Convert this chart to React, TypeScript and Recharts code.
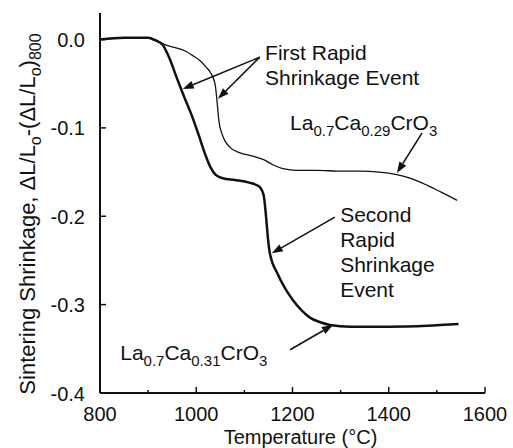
import React from 'react';
import {
  LineChart,
  Line,
  XAxis,
  YAxis,
  Label,
  ReferenceDot,
  ReferenceLine,
} from 'recharts';

const FONT = '"Liberation Sans", Arial, Helvetica, sans-serif';
const INK = '#111';

// La0.7Ca0.29CrO3 dilatometer trace
const ca029Temp = [800, 850, 900, 915, 931, 955, 977, 995, 1008, 1020, 1029, 1039, 1043, 1047, 1053, 1060, 1070, 1090, 1118, 1140, 1160, 1180, 1210, 1251, 1300, 1340, 1380, 1417, 1450, 1480, 1510, 1542];
const ca029Shrink = [0, 0.002, 0.002, 0, -0.005, -0.009, -0.013, -0.019, -0.024, -0.031, -0.037, -0.05, -0.069, -0.092, -0.106, -0.115, -0.122, -0.128, -0.132, -0.136, -0.142, -0.146, -0.148, -0.148, -0.149, -0.149, -0.15, -0.153, -0.158, -0.165, -0.173, -0.182];

// La0.7Ca0.31CrO3 dilatometer trace
const ca031Temp = [800, 850, 900, 915, 930, 945, 960, 975, 990, 1005, 1020, 1030, 1040, 1055, 1080, 1110, 1130, 1140, 1145, 1149, 1153, 1168, 1185, 1201, 1220, 1237, 1258, 1278, 1320, 1400, 1480, 1545];
const ca031Shrink = [0, 0.002, 0.002, -0.001, -0.006, -0.022, -0.044, -0.065, -0.085, -0.108, -0.132, -0.145, -0.153, -0.157, -0.159, -0.162, -0.166, -0.176, -0.2, -0.225, -0.242, -0.264, -0.282, -0.295, -0.307, -0.315, -0.32, -0.323, -0.325, -0.325, -0.324, -0.322];

const xMajorTicks = [800, 1000, 1200, 1400, 1600];
const xMinorTicks = [900, 1100, 1300, 1500];
const yTicks = [0, -0.1, -0.2, -0.3, -0.4];

const toRows = (temps: number[], shrink: number[]) =>
  temps.map((temp, i) => ({ temp, shrink: shrink[i] }));

const ca029Rows = toRows(ca029Temp, ca029Shrink);
const ca031Rows = toRows(ca031Temp, ca031Shrink);

// chemical names: [text, isSubscript]
type Part = [string, boolean];
const ca029Name: Part[] = [['La', false], ['0.7', true], ['Ca', false], ['0.29', true], ['CrO', false], ['3', true]];
const ca031Name: Part[] = [['La', false], ['0.7', true], ['Ca', false], ['0.31', true], ['CrO', false], ['3', true]];

function Formula({ cx, cy, parts }: { cx?: number; cy?: number; parts: Part[] }) {
  let shifted = false;
  return (
    <text x={cx} y={cy} fontFamily={FONT} fontSize={21} fill={INK}>
      {parts.map(([s, sub], i) => {
        const dy = sub && !shifted ? 6 : !sub && shifted ? -6 : 0;
        shifted = sub;
        return (
          <tspan key={i} dy={dy} fontSize={sub ? 15 : 21}>
            {s}
          </tspan>
        );
      })}
    </text>
  );
}

function Lines({ cx, cy, lines }: { cx?: number; cy?: number; lines: string[] }) {
  return (
    <text x={cx} y={cy} fontFamily={FONT} fontSize={21} fill={INK}>
      {lines.map((s, i) => (
        <tspan key={i} x={cx} dy={i === 0 ? 0 : 25}>
          {s}
        </tspan>
      ))}
    </text>
  );
}

function Arrow(p: any) {
  const { x1, y1, x2, y2 } = p;
  const a = Math.atan2(y2 - y1, x2 - x1);
  const len = 11;
  const w = 4;
  const bx = x2 - len * Math.cos(a);
  const by = y2 - len * Math.sin(a);
  const nx = -Math.sin(a) * w;
  const ny = Math.cos(a) * w;
  return (
    <g>
      <line x1={x1} y1={y1} x2={bx} y2={by} stroke={INK} strokeWidth={1.6} />
      <polygon points={`${x2},${y2} ${bx + nx},${by + ny} ${bx - nx},${by - ny}`} fill={INK} />
    </g>
  );
}

function BottomTick({ x, y, payload }: any) {
  const major = xMajorTicks.includes(payload.value);
  return (
    <g>
      <line x1={x} x2={x} y1={y} y2={y - (major ? 6 : 3)} stroke={INK} strokeWidth={1.5} />
      {major && (
        <text x={x} y={y + 28} textAnchor="middle" fontFamily={FONT} fontSize={20} fill={INK}>
          {payload.value}
        </text>
      )}
    </g>
  );
}

function TopTick({ x, y, payload }: any) {
  const major = xMajorTicks.includes(payload.value);
  return <line x1={x} x2={x} y1={y} y2={y + (major ? 6 : 3)} stroke={INK} strokeWidth={1.5} />;
}

function LeftTick({ x, y, payload }: any) {
  return (
    <g>
      <line x1={x} x2={x + 6} y1={y} y2={y} stroke={INK} strokeWidth={1.5} />
      <text x={x - 15} y={y + 7.5} textAnchor="end" fontFamily={FONT} fontSize={20} fill={INK}>
        {payload.value === 0 ? '0.0' : payload.value.toFixed(1)}
      </text>
    </g>
  );
}

function RightTick({ x, y }: any) {
  return <line x1={x} x2={x - 6} y1={y} y2={y} stroke={INK} strokeWidth={1.5} />;
}

function YTitle({ viewBox }: any) {
  const cx = viewBox.x + 35;
  const cy = viewBox.y + viewBox.height / 2 + 11;
  return (
    <text
      x={cx}
      y={cy}
      transform={`rotate(-90 ${cx} ${cy})`}
      textAnchor="middle"
      fontFamily={FONT}
      fontSize={22}
      fill={INK}
    >
      Sintering Shrinkage, ΔL/L
      <tspan dy={6} fontSize={16}>o</tspan>
      <tspan dy={-6}>-(ΔL/L</tspan>
      <tspan dy={6} fontSize={16}>o</tspan>
      <tspan dy={-6}>)</tspan>
      <tspan dy={6} fontSize={16}>800</tspan>
    </text>
  );
}

function XTitle({ viewBox }: any) {
  return (
    <text
      x={viewBox.x + viewBox.width / 2 + 8}
      y={viewBox.y + 51}
      textAnchor="middle"
      fontFamily={FONT}
      fontSize={20}
      fill={INK}
    >
      Temperature (°C)
    </text>
  );
}

const axisLine = { stroke: INK, strokeWidth: 2 };
const allXTicks = [...xMajorTicks, ...xMinorTicks].sort((a, b) => a - b);

export default function App() {
  return (
    <div style={{ position: 'absolute', left: 0, top: 0, background: '#fff', fontFamily: FONT }}>
      <LineChart width={513} height={448} margin={{ top: 13, right: 28, left: 0, bottom: 0 }}>
        <XAxis
          dataKey="temp"
          type="number"
          domain={[800, 1600]}
          ticks={allXTicks}
          interval={0}
          height={55}
          tickSize={0}
          tickMargin={0}
          axisLine={axisLine}
          tickLine={false}
          tick={<BottomTick />}
        >
          <Label content={<XTitle />} />
        </XAxis>
        <XAxis
          xAxisId="top"
          orientation="top"
          type="number"
          domain={[800, 1600]}
          ticks={allXTicks}
          interval={0}
          height={0}
          tickSize={0}
          tickMargin={0}
          axisLine={axisLine}
          tickLine={false}
          tick={<TopTick />}
        />
        <YAxis
          type="number"
          domain={[-0.4, 0.03]}
          ticks={yTicks}
          interval={0}
          width={100}
          tickSize={0}
          tickMargin={0}
          axisLine={axisLine}
          tickLine={false}
          tick={<LeftTick />}
        >
          <Label content={<YTitle />} />
        </YAxis>
        <YAxis
          yAxisId="right"
          orientation="right"
          type="number"
          domain={[-0.4, 0.03]}
          ticks={yTicks}
          interval={0}
          width={0}
          tickSize={0}
          tickMargin={0}
          axisLine={axisLine}
          tickLine={false}
          tick={<RightTick />}
        />

        <Line
          data={ca029Rows}
          dataKey="shrink"
          type="monotone"
          stroke={INK}
          strokeWidth={1.3}
          dot={false}
          isAnimationActive={false}
        />
        <Line
          data={ca031Rows}
          dataKey="shrink"
          type="monotone"
          stroke={INK}
          strokeWidth={2.5}
          dot={false}
          isAnimationActive={false}
        />

        {/* callout arrows */}
        <ReferenceLine segment={[{ x: 1132, y: -0.02 }, { x: 972, y: -0.056 }]} shape={Arrow} />
        <ReferenceLine segment={[{ x: 1132, y: -0.02 }, { x: 1045, y: -0.067 }]} shape={Arrow} />
        <ReferenceLine segment={[{ x: 1469, y: -0.106 }, { x: 1417, y: -0.151 }]} shape={Arrow} />
        <ReferenceLine segment={[{ x: 1288, y: -0.201 }, { x: 1157, y: -0.242 }]} shape={Arrow} />
        <ReferenceLine segment={[{ x: 1195, y: -0.351 }, { x: 1284, y: -0.323 }]} shape={Arrow} />

        {/* callout text */}
        <ReferenceDot x={1143} y={-0.0232} r={0} shape={(p: any) => <Lines {...p} lines={['First Rapid', 'Shrinkage Event']} />} />
        <ReferenceDot x={1299} y={-0.207} r={0} shape={(p: any) => <Lines {...p} lines={['Second', 'Rapid', 'Shrinkage', 'Event']} />} />
        <ReferenceDot x={1195} y={-0.102} r={0} shape={(p: any) => <Formula {...p} parts={ca029Name} />} />
        <ReferenceDot x={842} y={-0.3627} r={0} shape={(p: any) => <Formula {...p} parts={ca031Name} />} />
      </LineChart>
    </div>
  );
}
